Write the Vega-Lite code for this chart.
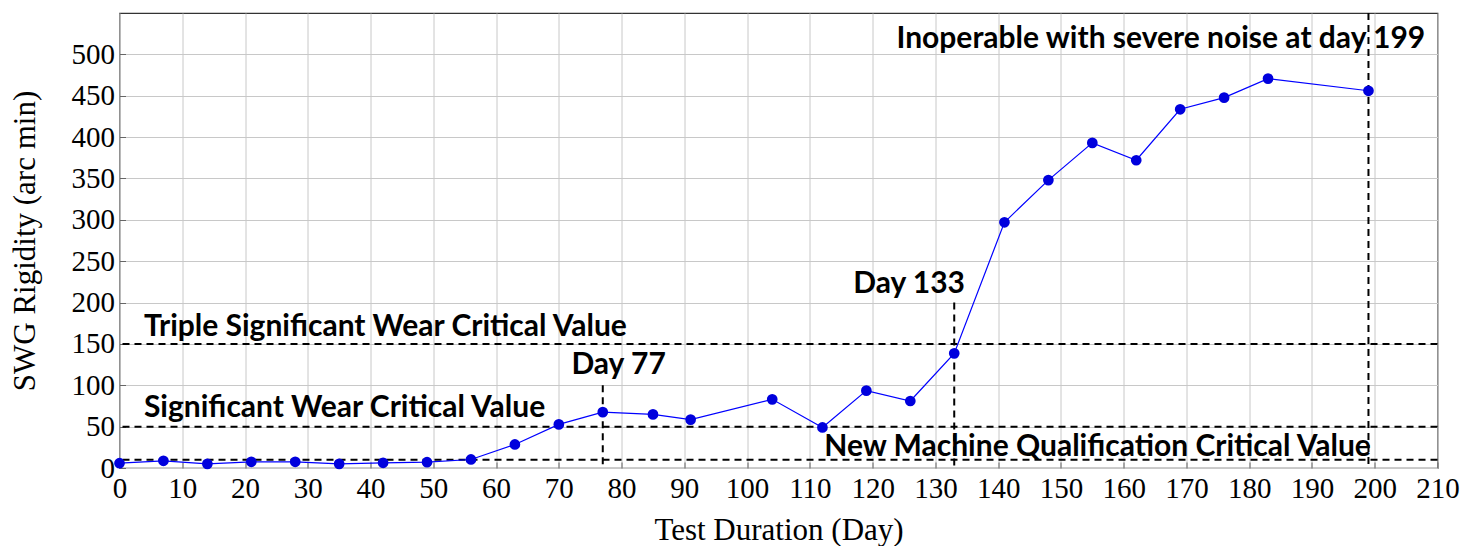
{
  "$schema": "https://vega.github.io/schema/vega-lite/v6.json",
  "autosize": {"type": "none"},
  "padding": {"left": 119.5, "top": 13, "right": 26.5, "bottom": 78},
  "width": 1318,
  "height": 455,
  "background": "white",
  "config": {
    "view": {"stroke": "#333333", "strokeWidth": 1.2},
    "axis": {
      "labelFont": "Liberation Serif",
      "titleFont": "Liberation Serif",
      "labelFontSize": 29,
      "titleFontSize": 31,
      "titleFontWeight": "normal",
      "labelColor": "black",
      "titleColor": "black",
      "gridColor": "#c8c8c8",
      "gridWidth": 1,
      "domain": false,
      "ticks": true,
      "tickColor": "#666666",
      "tickWidth": 1,
      "tickSize": -6
    }
  },
  "datasets": {
    "series": [
      {"day": 0, "value": 5.8},
      {"day": 7, "value": 8.7},
      {"day": 14, "value": 5},
      {"day": 21, "value": 7.5},
      {"day": 28, "value": 7.5},
      {"day": 35, "value": 5},
      {"day": 42, "value": 6.3},
      {"day": 49, "value": 7},
      {"day": 56, "value": 10.3},
      {"day": 63, "value": 28.5},
      {"day": 70, "value": 52.7},
      {"day": 77, "value": 67.5},
      {"day": 85, "value": 64.8},
      {"day": 91, "value": 58.5},
      {"day": 104, "value": 83},
      {"day": 112, "value": 49},
      {"day": 119, "value": 93.5},
      {"day": 126, "value": 81},
      {"day": 133, "value": 138.6},
      {"day": 141, "value": 297},
      {"day": 148, "value": 348},
      {"day": 155, "value": 393},
      {"day": 162, "value": 372},
      {"day": 169, "value": 433.6},
      {"day": 176, "value": 447.7},
      {"day": 183, "value": 470.7},
      {"day": 199, "value": 456}
    ],
    "hlines": [
      {"level": 10},
      {"level": 50},
      {"level": 150}
    ],
    "vlines": [
      {"day": 77, "top": 100},
      {"day": 133, "top": 200},
      {"day": 199, "top": 550}
    ],
    "labels": [
      {"text": "Triple Significant Wear Critical Value", "x": 3.9, "y": 171},
      {"text": "Significant Wear Critical Value", "x": 3.9, "y": 72},
      {"text": "New Machine Qualification Critical Value", "x": 112.3, "y": 25},
      {"text": "Day 77", "x": 72, "y": 124},
      {"text": "Day 133", "x": 116.9, "y": 223},
      {"text": "Inoperable with severe noise at day 199", "x": 123.8, "y": 518}
    ]
  },
  "encoding": {
    "x": {"type": "quantitative",
      "scale": {"domain": [0, 210], "nice": false, "zero": true},
      "axis": {"values": [0, 10, 20, 30, 40, 50, 60, 70, 80, 90, 100, 110, 120, 130, 140, 150, 160, 170, 180, 190, 200, 210], "title": "Test Duration (Day)", "labelPadding": 12, "titlePadding": 12, "labelFlush": false}},
    "y": {"type": "quantitative",
      "scale": {"domain": [0, 550], "nice": false, "zero": true},
      "axis": {"values": [0, 50, 100, 150, 200, 250, 300, 350, 400, 450, 500], "title": "SWG Rigidity (arc min)", "labelPadding": 11, "titlePadding": 30}}
  },
  "layer": [
    {
      "data": {"name": "hlines"},
      "mark": {"type": "rule", "color": "black", "strokeWidth": 2, "strokeDash": [7, 5]},
      "encoding": {
        "y": {"field": "level", "type": "quantitative"}
      }
    },
    {
      "data": {"name": "vlines"},
      "mark": {"type": "rule", "color": "black", "strokeWidth": 2, "strokeDash": [7, 5]},
      "encoding": {
        "x": {"field": "day", "type": "quantitative"},
        "y": {"field": "top", "type": "quantitative"},
        "y2": {"datum": 0}
      }
    },
    {
      "data": {"name": "series"},
      "mark": {"type": "line", "color": "#0000ff", "strokeWidth": 1.2},
      "encoding": {
        "x": {"field": "day", "type": "quantitative"},
        "y": {"field": "value", "type": "quantitative"}
      }
    },
    {
      "data": {"name": "series"},
      "mark": {"type": "point", "filled": true, "color": "#0000dd", "opacity": 1, "size": 115},
      "encoding": {
        "x": {"field": "day", "type": "quantitative"},
        "y": {"field": "value", "type": "quantitative"}
      }
    },
    {
      "data": {"name": "labels"},
      "mark": {"type": "text", "font": "Lato", "fontWeight": "bold", "fontSize": 30, "color": "black", "baseline": "middle", "align": "left"},
      "encoding": {
        "x": {"field": "x", "type": "quantitative"},
        "y": {"field": "y", "type": "quantitative"},
        "text": {"field": "text"}
      }
    }
  ]
}
